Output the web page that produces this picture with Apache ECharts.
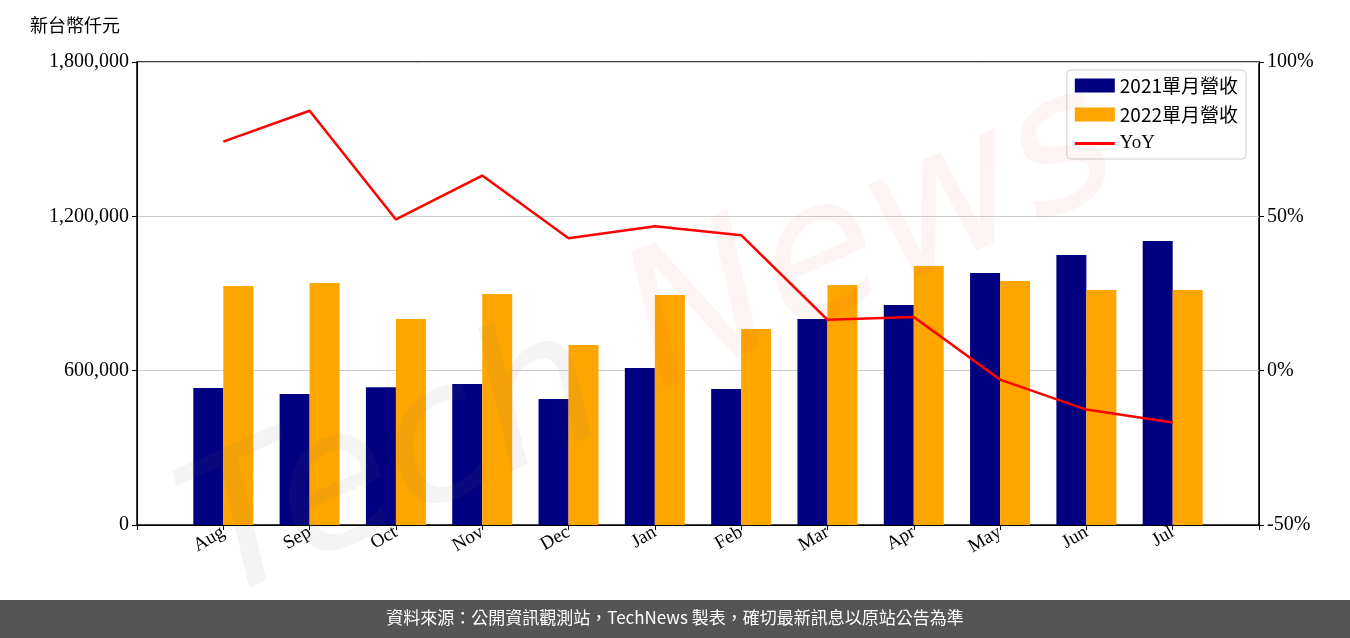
<!DOCTYPE html>
<html lang="zh-Hant">
<head>
    <meta charset="UTF-8">
    <title>TechNews</title>
</head>
<script src="https://cdn.jsdelivr.net/npm/echarts@6/dist/echarts.min.js" type="text/javascript"></script>
<body style="margin:0;">
<div id="chart" style="width:1350px;height:638px;"></div>
<script type="text/javascript">
    var months = ['Aug', 'Sep', 'Oct', 'Nov', 'Dec', 'Jan', 'Feb', 'Mar', 'Apr', 'May', 'Jun', 'Jul'];
    var rev2021 = [533000, 509000, 536000, 548000, 490000, 610000, 529000, 801000, 855000, 980000, 1050000, 1104000];
    var rev2022 = [929000, 941000, 801000, 898000, 700000, 894000, 762000, 933000, 1007000, 949000, 914000, 914000];
    var yoy = [74.2, 84.2, 49.0, 63.2, 42.9, 46.8, 43.9, 16.5, 17.4, -2.9, -12.6, -16.8];

    var font = 'Liberation Serif';
    function pts(arr) { return arr.map(function (v, i) { return [i, v]; }); }

    var chart = echarts.init(document.getElementById('chart'));
    chart.setOption({
        animation: false,
        textStyle: { fontFamily: font },
        grid: { left: 137, right: 91, top: 62, bottom: 113, show: true, borderColor: '#000', borderWidth: 1.5 },
        graphic: [
            { type: 'text', left: 30, top: 16, style: { text: '新台幣仟元', font: '18px "Noto Sans CJK TC"', fill: '#000' } },
            { type: 'rect', left: 0, top: 600, shape: { width: 1350, height: 38 }, style: { fill: '#555' } },
            { type: 'text', left: 'center', top: 609, style: { text: '資料來源：公開資訊觀測站，TechNews 製表，確切最新訊息以原站公告為準', font: '17px "Noto Sans CJK TC"', fill: '#fff' } },
            { type: 'text', x: 160, y: 470, rotation: 0.42, z: 100, style: { text: 'Tech', font: 'italic 190px "DejaVu Sans"', fill: 'rgba(120,120,120,0.08)' } },
            { type: 'text', x: 600, y: 260, rotation: 0.42, z: 100, style: { text: 'News', font: 'italic 190px "DejaVu Sans"', fill: 'rgba(220,60,60,0.06)' } }
        ],
        legend: {
            right: 104, top: 70, orient: 'vertical', itemGap: 10, itemWidth: 40, itemHeight: 14,
            backgroundColor: '#fff', borderColor: '#ccc', borderWidth: 1, borderRadius: 4, padding: [6, 8],
            textStyle: { fontSize: 19, fontFamily: 'Noto Sans CJK TC', color: '#000' },
            data: [
                { name: '2021單月營收', icon: 'rect' },
                { name: '2022單月營收', icon: 'rect' },
                { name: 'YoY', icon: 'path://M0,0 L40,0 L40,3 L0,3 Z', itemStyle: { color: '#ff0000' }, textStyle: { fontFamily: font } }
            ]
        },
        xAxis: {
            type: 'value', min: -1, max: 12, interval: 1,
            splitLine: { show: false },
            axisLine: { show: true, onZero: false, lineStyle: { color: '#000' } },
            axisTick: { show: true, lineStyle: { color: '#000' } },
            axisLabel: {
                rotate: 30, fontSize: 19, color: '#000', fontFamily: font, margin: 6,
                formatter: function (v) { return months[v] || ''; }
            }
        },
        yAxis: [
            {
                type: 'value', min: 0, max: 1800000, interval: 600000,
                axisLine: { show: true, onZero: false, lineStyle: { color: '#000' } },
                axisTick: { show: true, lineStyle: { color: '#000' } },
                axisLabel: { fontSize: 20, color: '#000', fontFamily: font, formatter: function (v) { return v.toLocaleString('en-US'); } },
                splitLine: { lineStyle: { color: '#ccc' } }
            },
            {
                type: 'value', min: -50, max: 100, interval: 50,
                axisLine: { show: true, onZero: false, lineStyle: { color: '#000' } },
                axisTick: { show: true, lineStyle: { color: '#000' } },
                axisLabel: { fontSize: 20, color: '#000', fontFamily: font, formatter: '{value}%' },
                splitLine: { show: false }
            }
        ],
        series: [
            { name: '2021單月營收', type: 'bar', barWidth: 30, barGap: 0, itemStyle: { color: '#000080' }, data: pts(rev2021) },
            { name: '2022單月營收', type: 'bar', barWidth: 30, barGap: 0, itemStyle: { color: '#FFA500' }, data: pts(rev2022) },
            { name: 'YoY', type: 'line', yAxisIndex: 1, symbol: 'none', z: 5, lineStyle: { color: '#ff0000', width: 2.5 }, itemStyle: { color: '#ff0000' }, data: pts(yoy) }
        ]
    });
</script>
</body>
</html>
